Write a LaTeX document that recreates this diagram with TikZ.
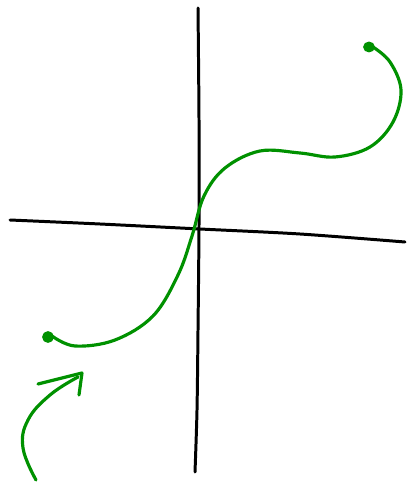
\documentclass[tikz,border=0pt]{standalone}
\usetikzlibrary{arrows.meta}
\definecolor{penGreen}{RGB}{0,145,0}

\begin{document}
\begin{tikzpicture}[x=0.02cm, y=-0.02cm, line cap=round, line join=round,
  axis/.style={draw=black, line width=1.7pt},
  pen/.style={draw=penGreen, line width=1.8pt},
  blob/.style={fill=penGreen, draw=penGreen, line width=1pt}]
\useasboundingbox (0,0) rectangle (406,482);
% axes
\draw[axis] plot[smooth] coordinates {(10,220) (100,224) (200,229) (300,234) (405,242)};
\draw[axis] plot[smooth] coordinates {(198,8) (199,120) (199,225) (198,330) (197,410) (195,472)};
% curve
\draw[pen] plot[smooth, tension=0.6] coordinates {(52,336) (75,346) (115,340) (153,316) (178,275)
  (192,236) (204,196) (225,168) (260,151) (300,153) (335,157) (370,147) (393,122) (401,90) (390,62) (373,47)};
\fill[blob] (48,337) ellipse (5 and 5);
\fill[blob] (369,47) ellipse (5 and 4.5);
% arrow
\draw[pen] plot[smooth, tension=0.7] coordinates {(36,480) (23,448) (28,420) (50,395) (78,377)};
\draw[pen] (38,384) -- (82,373) -- (79,395);
\end{tikzpicture}
\end{document}
